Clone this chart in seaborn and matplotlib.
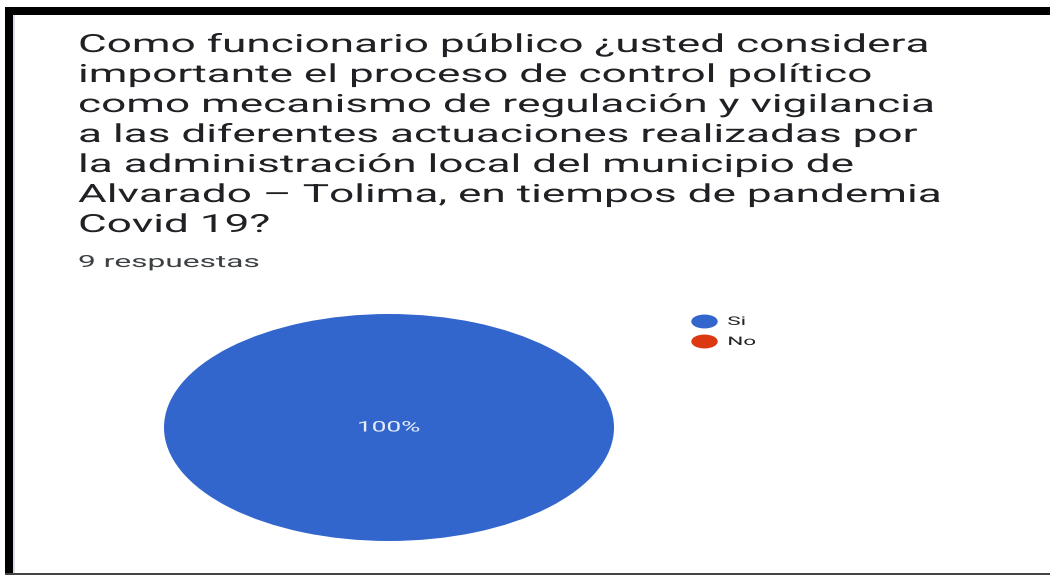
import matplotlib
matplotlib.use("Agg")
import matplotlib.pyplot as plt
from matplotlib.patches import Rectangle
from matplotlib.path import Path
from matplotlib.lines import Line2D
from matplotlib.transforms import Affine2D
from matplotlib.patheffects import AbstractPathEffect
import seaborn as sns

# Survey data
title_lines = [
    "Como funcionario público ¿usted considera",
    "importante el proceso de control político",
    "como mecanismo de regulación y vigilancia",
    "a las diferentes actuaciones realizadas por",
    "la administración local del municipio de",
    "Alvarado – Tolima, en tiempos de pandemia",
    "Covid 19?",
]
subtitle = "9 respuestas"
categories = ["Si", "No"]
responses = [9, 0]
colors = ["#3366CC", "#DC3912"]


class HorizontalStretch(AbstractPathEffect):
    """Widen glyphs horizontally around the text's left origin or its centre."""

    def __init__(self, sx, anchor="left"):
        super().__init__()
        self.sx = sx
        self.anchor = anchor

    def draw_path(self, renderer, gc, tpath, affine, rgbFace=None):
        if self.anchor == "left":
            x0 = affine.transform([(0, 0)])[0][0]
        else:
            bb = tpath.get_extents(affine)
            x0 = 0.5 * (bb.x0 + bb.x1)
        stretch = Affine2D().translate(-x0, 0).scale(self.sx, 1).translate(x0, 0)
        renderer.draw_path(gc, tpath, affine + stretch, rgbFace)


sns.set_theme(style="white")
plt.rcParams["font.family"] = ["Roboto", "DejaVu Sans"]

W, H = 1050, 575
fig = plt.figure(figsize=(W / 100, H / 100), dpi=100)
fig.patch.set_facecolor("white")


def fx(px):
    return px / W


def fy(py):
    return 1 - py / H


# Frame around the card
fig.patches.append(Rectangle((fx(5), fy(15)), fx(1045), 8 / H, transform=fig.transFigure,
                             facecolor="black", edgecolor="none", zorder=5))
fig.patches.append(Rectangle((fx(5), fy(575)), 8 / W, (575 - 7) / H, transform=fig.transFigure,
                             facecolor="black", edgecolor="none", zorder=5))
fig.patches.append(Rectangle((fx(13), fy(575)), 2 / W, (575 - 15) / H, transform=fig.transFigure,
                             facecolor="#dcdce6", edgecolor="none", zorder=4))
fig.patches.append(Rectangle((fx(5), fy(575)), fx(1045), 2 / H, transform=fig.transFigure,
                             facecolor="#444444", edgecolor="none", zorder=5))

# Question text
for i, line in enumerate(title_lines):
    fig.text(fx(78), fy(52 + 30 * i), line, fontsize=18, color="#202124",
             ha="left", va="baseline",
             path_effects=[HorizontalStretch(1.765)])
fig.text(fx(78), fy(267), subtitle, fontsize=12, color="#3c4043",
         ha="left", va="baseline", path_effects=[HorizontalStretch(1.9)])

# Pie chart
ax = fig.add_axes([fx(164), fy(541), fx(450), 227 / H])


def pct_label(p):
    return f"{p:.0f}%" if p > 0 else ""


wedges, texts, autotexts = ax.pie(
    responses, colors=colors, startangle=90, counterclock=False,
    autopct=pct_label, pctdistance=0.0,
    textprops=dict(color="#e8eefa", fontsize=10.5),
    wedgeprops=dict(linewidth=0),
)
for t in autotexts:
    t.set_path_effects([HorizontalStretch(1.8, anchor="center")])
ax.set_aspect("auto")
ax.set_xlim(-1, 1)
ax.set_ylim(-1, 1)
ax.axis("off")

# Legend with oval markers
oval = Path.unit_circle().transformed(Affine2D().scale(1.0, 0.5))
handles = [Line2D([], [], linestyle="none", marker=oval, markersize=18,
                  markerfacecolor=c, markeredgecolor=c) for c in colors]
leg = fig.legend(handles, categories, loc="upper left",
                 bbox_to_anchor=(fx(686), fy(309)), frameon=False,
                 fontsize=8.5, handlelength=2.0, handletextpad=1.0,
                 labelspacing=0.6, borderpad=0, labelcolor="#222222")
for t in leg.get_texts():
    t.set_path_effects([HorizontalStretch(1.9)])

fig.savefig("out.png", dpi=100, facecolor="white")
